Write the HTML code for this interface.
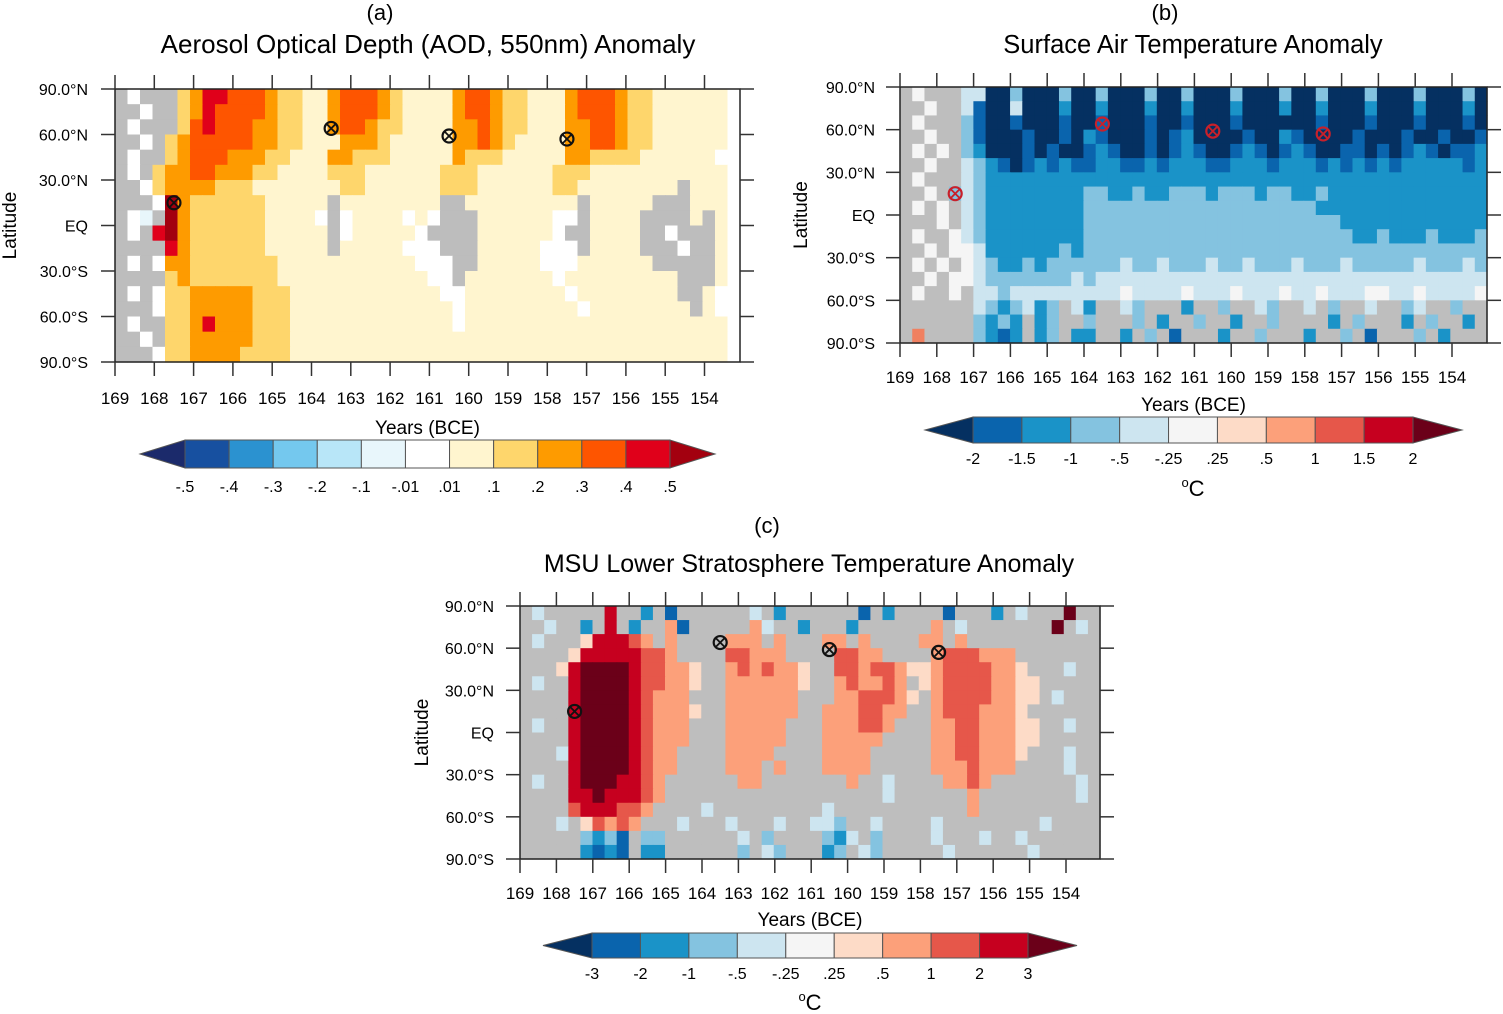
<!DOCTYPE html>
<html><head><meta charset="utf-8">
<style>
html,body{margin:0;padding:0;background:#fff;}
svg{display:block;font-family:"Liberation Sans",Arial,sans-serif;}
</style></head>
<body>
<svg id="fig" width="1503" height="1014" viewBox="0 0 1503 1014" xmlns="http://www.w3.org/2000/svg">
<text x="380" y="20" font-size="22" text-anchor="middle">(a)</text>
<text x="428" y="53" font-size="26" text-anchor="middle">Aerosol Optical Depth (AOD, 550nm) Anomaly</text>
<text x="1165" y="20" font-size="22" text-anchor="middle">(b)</text>
<text x="1193" y="53" font-size="25.5" text-anchor="middle">Surface Air Temperature Anomaly</text>
<text x="767" y="533" font-size="22" text-anchor="middle">(c)</text>
<text x="809" y="572" font-size="25" text-anchor="middle">MSU Lower Stratosphere Temperature Anomaly</text>
</svg>
<script>
// ---- data ----
const xTickLabels = ["169","168","167","166","165","164","163","162","161","160","159","158","157","156","155","154"];
const xTickYears = [169,168,167,166,165,164,163,162,161,160,159,158,157,156,155,154];
const yTickLabels = ["90.0°N","60.0°N","30.0°N","EQ","30.0°S","60.0°S","90.0°S"];
const yTickLats = [90,60,30,0,-30,-60,-90];
const eruptionYears = [167.5,163.5,160.5,157.5];
const eruptionLats = [15,64,59,57];
const cbarLabelsA = ["-.5","-.4","-.3","-.2","-.1","-.01",".01",".1",".2",".3",".4",".5"];
const cbarLabelsB = ["-2","-1.5","-1","-.5","-.25",".25",".5","1","1.5","2"];
const cbarLabelsC = ["-3","-2","-1","-.5","-.25",".25",".5","1","2","3"];
const gridA = [
"gwgggyoRRr"+"rroyyccorr"+"royccccorr"+"oyycccorrr"+"oyyccccccw",
"ggwggyoRrr"+"rroyyccorr"+"royccccorr"+"oyycccorrr"+"oyyccccccw",
"gwgggyrRrr"+"rooyyccorr"+"oyyccccoor"+"oyycccoorr"+"oyyccccccw",
"ggwgyorrrr"+"rooyycccoo"+"oycccccoor"+"oyccccoorr"+"oyyccccccw",
"gwggyorrro"+"ooyycccooy"+"yycccccoyy"+"ycccccooyy"+"yyccccccww",
"gwgyoorroo"+"oyyccccyyy"+"ccccccyyyc"+"cccccyyycc"+"cccccccccw",
"ggwyooooyy"+"ycccccccyy"+"ccccccyyyc"+"cccccyyccc"+"cccccgcccw",
"gggwDoyyyy"+"yycccccgcc"+"ccccccggcc"+"cccccccgcc"+"cccgggcccw",
"gwbgDoyyyy"+"yyccccwgwc"+"cccwcwgggc"+"cccccwwgcc"+"ccggggcgcw",
"gwgRDoyyyy"+"yycccccgwc"+"ccccwggggc"+"cccccwggcc"+"ccggwgggcw",
"ggggRoyyyy"+"yycccccgcc"+"cccwwwgggc"+"ccccwwwgcc"+"ccgggwggcw",
"gwgwooyyyy"+"yyyccccccc"+"ccccwwwggc"+"ccccwwwccc"+"cccgggggcw",
"ggggyoyyyy"+"yyyccccccc"+"cccccwwgcc"+"cccccwcccc"+"cccccgggcw",
"gwgwyyoooo"+"oyyycccccc"+"ccccccwwcc"+"ccccccwccc"+"cccccggcww",
"gggwyyoooo"+"oyyycccccc"+"cccccccwcc"+"cccccccwcc"+"ccccccgcww",
"gwggyyoRoo"+"oyyycccccc"+"cccccccwcc"+"cccccccccc"+"cccccccccw",
"ggwgyyoooo"+"oyyycccccc"+"cccccccccc"+"cccccccccc"+"cccccccccw",
"gggwyyoooo"+"yyyycccccc"+"cccccccccc"+"cccccccccc"+"cccccccccw"];
const gridB = [
"gwgggppN"+"NlNNNlNN"+"lNNNlNNl"+"NNNlNNNl"+"NNlNNNlN"+"NNlNNNlN",
"ggwggpBN"+"NpNNNmNN"+"mNNNmNNm"+"NNNmNNNm"+"NNmNNNmN"+"NNmNNNmN",
"gwggglBN"+"NBNNNBNN"+"BNNNBNNB"+"NNNBNNNN"+"NNBNNNBN"+"NNBNNNBN",
"ggwgglBN"+"NNBNNBNm"+"BNNNBNBm"+"NNNNBNNm"+"BNNNNBNN"+"NBNNBNNB",
"gwgwglmN"+"NNBNBNNB"+"mBNNBNBm"+"BNNBmBNB"+"mBNNBBNB"+"NBmBNBBm",
"ggwggplm"+"BNBmBmBB"+"mmBBmBmm"+"mBBmmmBm"+"mmBmBmBm"+"BmmmmmBm",
"gwgggplm"+"mmmmmmmm"+"mmmmmmmm"+"mmmmmmmm"+"mmmmmmmm"+"mmmmmmmm",
"ggwglplm"+"mmmmmmml"+"lmmlmmll"+"lmlllmll"+"mmlmmmmm"+"mmmmmmmm",
"gwgwgplm"+"mmmmmmml"+"llllllll"+"llllllll"+"llmmmmmm"+"mmmmmmmm",
"gggwgplm"+"mmmmmmml"+"llllllll"+"llllllll"+"llllmmmm"+"mmmmmmmm",
"gwggwplm"+"mmmmmmml"+"llllllll"+"llllllll"+"lllllmml"+"mmmlmmml",
"ggwgwwpm"+"mmmmmlml"+"llllllll"+"llllllll"+"llllllll"+"llllllll",
"gwgwgwpl"+"mmlmllll"+"llpllpll"+"lpllplll"+"plllplll"+"llplllpl",
"ggwgwwpl"+"llllllpl"+"pppppppp"+"pppppppp"+"pppppppp"+"pppppppp",
"gwggwgpp"+"lppppppp"+"ppwppppw"+"pppwpppw"+"ppwpppww"+"ppwppppw",
"ggggggpl"+"mlpmlgpm"+"ggplgggm"+"gglggplg"+"gpglggpg"+"glpgglgg",
"gggggglm"+"lmgmlggl"+"ggglgmgg"+"lggmgglg"+"gggmglgg"+"gmglggmg",
"gogggglm"+"Bmgmlgmm"+"ggmglgBg"+"ggmgglgg"+"gmgglgBg"+"gglgmggg"];
const gridC = [
"gpgggggR"+"ggmgBggg"+"gggpgmgg"+"ggggBgmg"+"gggBgggm"+"gpgggDgg",
"ggpggmgR"+"gmggsBgg"+"gggspggm"+"gggmgggg"+"ggsgpggg"+"ggggDgpg",
"gpgggkRR"+"Rrsgsggg"+"gsssgsgg"+"gssgsggg"+"gssgsggg"+"gggggggg",
"ggggkRRR"+"RRrrsggg"+"grrsssgg"+"ggrrssgg"+"ggsrrrss"+"sggggggg",
"gggkRDDD"+"DRrrsskg"+"gsrsrssk"+"ggrrsrrs"+"kksrrrrs"+"skgggpgg",
"gpggRDDD"+"DRrrsskg"+"gssssssk"+"ggsrssrs"+"gksrrrrs"+"skkggggg",
"ggggRDDD"+"DRrsssgg"+"gssssssg"+"ggssrrrs"+"kgsrrrrs"+"skkgpggg",
"ggggRDDD"+"DRrssskg"+"gssssssg"+"gsssrrss"+"ggsrrrss"+"skgggggg",
"gpggRDDD"+"DRrsssgg"+"gsssssgg"+"gsssrrsg"+"ggssrrss"+"skkggpgg",
"ggggRDDD"+"DRrsssgg"+"gsssssgg"+"gsssssgg"+"ggssrrss"+"skkggggg",
"gggpRDDD"+"DRrssggg"+"gssssggg"+"gssssggg"+"ggssrrss"+"skgggpgg",
"ggggRDDD"+"DRrssggg"+"gsssgsgg"+"gssssggg"+"ggsssrss"+"sggggpgg",
"gpggRDDD"+"RRrsgggg"+"ggssgggg"+"gggsggpg"+"gggssrsg"+"ggggggpg",
"ggggRRDR"+"RRrsgggg"+"gggggggg"+"ggggggpg"+"gggggsgg"+"ggggggpg",
"ggggrRRR"+"rrsggggp"+"gggggggg"+"gpgggggg"+"gggggsgg"+"gggggggg",
"gggpgkrs"+"rsgggpgg"+"gpgggpgg"+"pplggpgg"+"ggpggggg"+"gggpgggg",
"ggggglml"+"Bgllgggg"+"ggpglggg"+"glmpglgg"+"ggpgggpg"+"gpgggggg",
"gggggmBm"+"Bgmmgggg"+"gglgplgg"+"gmlgplgg"+"gggpgggg"+"ggpggggg"];

// ---- styles ----
const colorsA = {g:"#bdbdbd",w:"#ffffff",b:"#e8f6fb",c:"#fff5cf",y:"#fed66c",o:"#fe9b00",r:"#fe5500",R:"#e0001a",D:"#a3000f"};
const colorsBC = {g:"#bebebe",w:"#f5f5f5",p:"#cde5f0",l:"#84c3e0",m:"#1a93c8",B:"#0a64ad",N:"#053061",k:"#fddbc7",s:"#fca07a",r:"#e6574a",R:"#c6001f",D:"#6b0019",o:"#f08060"};
const cbarColorsA = ["#1b2a6b","#1750a0","#2b92d0","#74c8ee","#b8e6f8","#e8f6fb","#ffffff","#fff5cf","#fed66c","#fe9b00","#fe5500","#e0001a","#a3000f"];
const cbarColorsBC = ["#053061","#0a64ad","#1a93c8","#84c3e0","#cde5f0","#f5f5f5","#fddbc7","#fca07a","#e6574a","#c6001f","#6b0019"];

const NS="http://www.w3.org/2000/svg";
const svg=document.getElementById('fig');
function mk(tag,attrs,parent){const e=document.createElementNS(NS,tag);for(const k in attrs)e.setAttribute(k,attrs[k]);(parent||svg).appendChild(e);return e;}

const panels=[
 {id:'a',grid:gridA,colors:colorsA,x0:115,x1:740,y0:89,y1:362,yr0:169,yrPx:39.3,marker:"#111",
  xlabY:404,ylabX:88,xtitleY:434,ytitleX:16,
  cb:{tipL:140,b0:185,b1:670,tipR:715,y0:440,y1:468,labY:492,colors:cbarColorsA,labels:cbarLabelsA,unit:null}},
 {id:'b',grid:gridB,colors:colorsBC,x0:900,x1:1487,y0:87,y1:343,yr0:169,yrPx:36.8,marker:"#c8202a",
  xlabY:383,ylabX:875,xtitleY:411,ytitleX:807,
  cb:{tipL:925,b0:973,b1:1413,tipR:1462,y0:417,y1:443,labY:464,colors:cbarColorsBC,labels:cbarLabelsB,unit:[1193,496]}},
 {id:'c',grid:gridC,colors:colorsBC,x0:520,x1:1100,y0:606,y1:859,yr0:169,yrPx:36.4,marker:"#111",
  xlabY:899,ylabX:494,xtitleY:926,ytitleX:428,
  cb:{tipL:543,b0:592,b1:1028,tipR:1077,y0:933,y1:958,labY:979,colors:cbarColorsBC,labels:cbarLabelsC,unit:[810,1010]}}
];

panels.forEach(P=>{
 const xScale=yr=>P.x0+(P.yr0-yr)*P.yrPx;
 const yScale=lat=>P.y0+(90-lat)/180*(P.y1-P.y0);
 const g=mk('g',{});
 
 
 const rows=P.grid.length, cols=P.grid[0].length;
 const cw=(P.x1-P.x0)/cols, ch=(P.y1-P.y0)/rows;
 for(let r=0;r<rows;r++){
  for(let c=0;c<cols;c++){
   const k=P.grid[r][c]||'g';
   const rect=mk('rect',{x:(P.x0+c*cw).toFixed(2),y:(P.y0+r*ch).toFixed(2),width:(cw+0.6).toFixed(2),height:(ch+0.6).toFixed(2),fill:P.colors[k]||'#bdbdbd'},g);
   
   
  }
 }
 const fr=mk('rect',{x:P.x0,y:P.y0,width:P.x1-P.x0,height:P.y1-P.y0,fill:'none',stroke:'#222','stroke-width':1.5});
 
 
 xTickYears.forEach((yr,i)=>{
  const x=xScale(yr);
  mk('line',{x1:x,y1:P.y0,x2:x,y2:P.y0-14,stroke:'#333','stroke-width':1.5});
  mk('line',{x1:x,y1:P.y1,x2:x,y2:P.y1+14,stroke:'#333','stroke-width':1.5});
  const t=mk('text',{x:x,y:P.xlabY,'font-size':17,'text-anchor':'middle'});
  t.textContent=xTickLabels[i];
  
  
 });
 yTickLats.forEach((lat,i)=>{
  const y=yScale(lat);
  mk('line',{x1:P.x0,y1:y,x2:P.x0-14,y2:y,stroke:'#333','stroke-width':1.5});
  mk('line',{x1:P.x1,y1:y,x2:P.x1+14,y2:y,stroke:'#333','stroke-width':1.5});
  const t=mk('text',{x:P.ylabX,y:y+6,'font-size':16,'text-anchor':'end'});
  t.textContent=yTickLabels[i];
  
  
 });
 const xt=mk('text',{x:(P.x0+P.x1)/2,y:P.xtitleY,'font-size':19,'text-anchor':'middle'});
 xt.textContent='Years (BCE)';
 
 
 const cy=(P.y0+P.y1)/2;
 const yt=mk('text',{x:P.ytitleX,y:cy,'font-size':19,'text-anchor':'middle',transform:'rotate(-90 '+P.ytitleX+' '+cy+')'});
 yt.textContent='Latitude';
 
 
 eruptionYears.forEach((yr,i)=>{
  const x=xScale(yr), y=yScale(eruptionLats[i]);
  const mg=mk('g',{});
  
  
  mk('circle',{cx:x,cy:y,r:6.5,fill:'none',stroke:P.marker,'stroke-width':2.2},mg);
  mk('line',{x1:x-4,y1:y-4,x2:x+4,y2:y+4,stroke:P.marker,'stroke-width':1.8},mg);
  mk('line',{x1:x-4,y1:y+4,x2:x+4,y2:y-4,stroke:P.marker,'stroke-width':1.8},mg);
 });
 const C=P.cb, nb=C.colors.length-2, bw=(C.b1-C.b0)/nb, my=(C.y0+C.y1)/2;
 const cg=mk('g',{});
 
 
 mk('polygon',{points:`${C.tipL},${my} ${C.b0},${C.y0} ${C.b0},${C.y1}`,fill:C.colors[0],stroke:'#555','stroke-width':1},cg);
 for(let i=0;i<nb;i++){
  mk('rect',{x:C.b0+i*bw,y:C.y0,width:bw,height:C.y1-C.y0,fill:C.colors[i+1],stroke:'#555','stroke-width':1},cg);
 }
 mk('polygon',{points:`${C.tipR},${my} ${C.b1},${C.y0} ${C.b1},${C.y1}`,fill:C.colors[C.colors.length-1],stroke:'#555','stroke-width':1},cg);
 C.labels.forEach((lb,i)=>{
  const t=mk('text',{x:C.b0+i*bw,y:C.labY,'font-size':16,'text-anchor':'middle'},cg);
  t.textContent=lb;
  
  
 });
 if(C.unit){
  const u=mk('text',{x:C.unit[0],y:C.unit[1],'font-size':22,'text-anchor':'middle'},cg);
  u.innerHTML='<tspan dy="-9" font-size="13">o</tspan><tspan dy="9">C</tspan>';
  
  
 }
});
</script>
</body></html>
